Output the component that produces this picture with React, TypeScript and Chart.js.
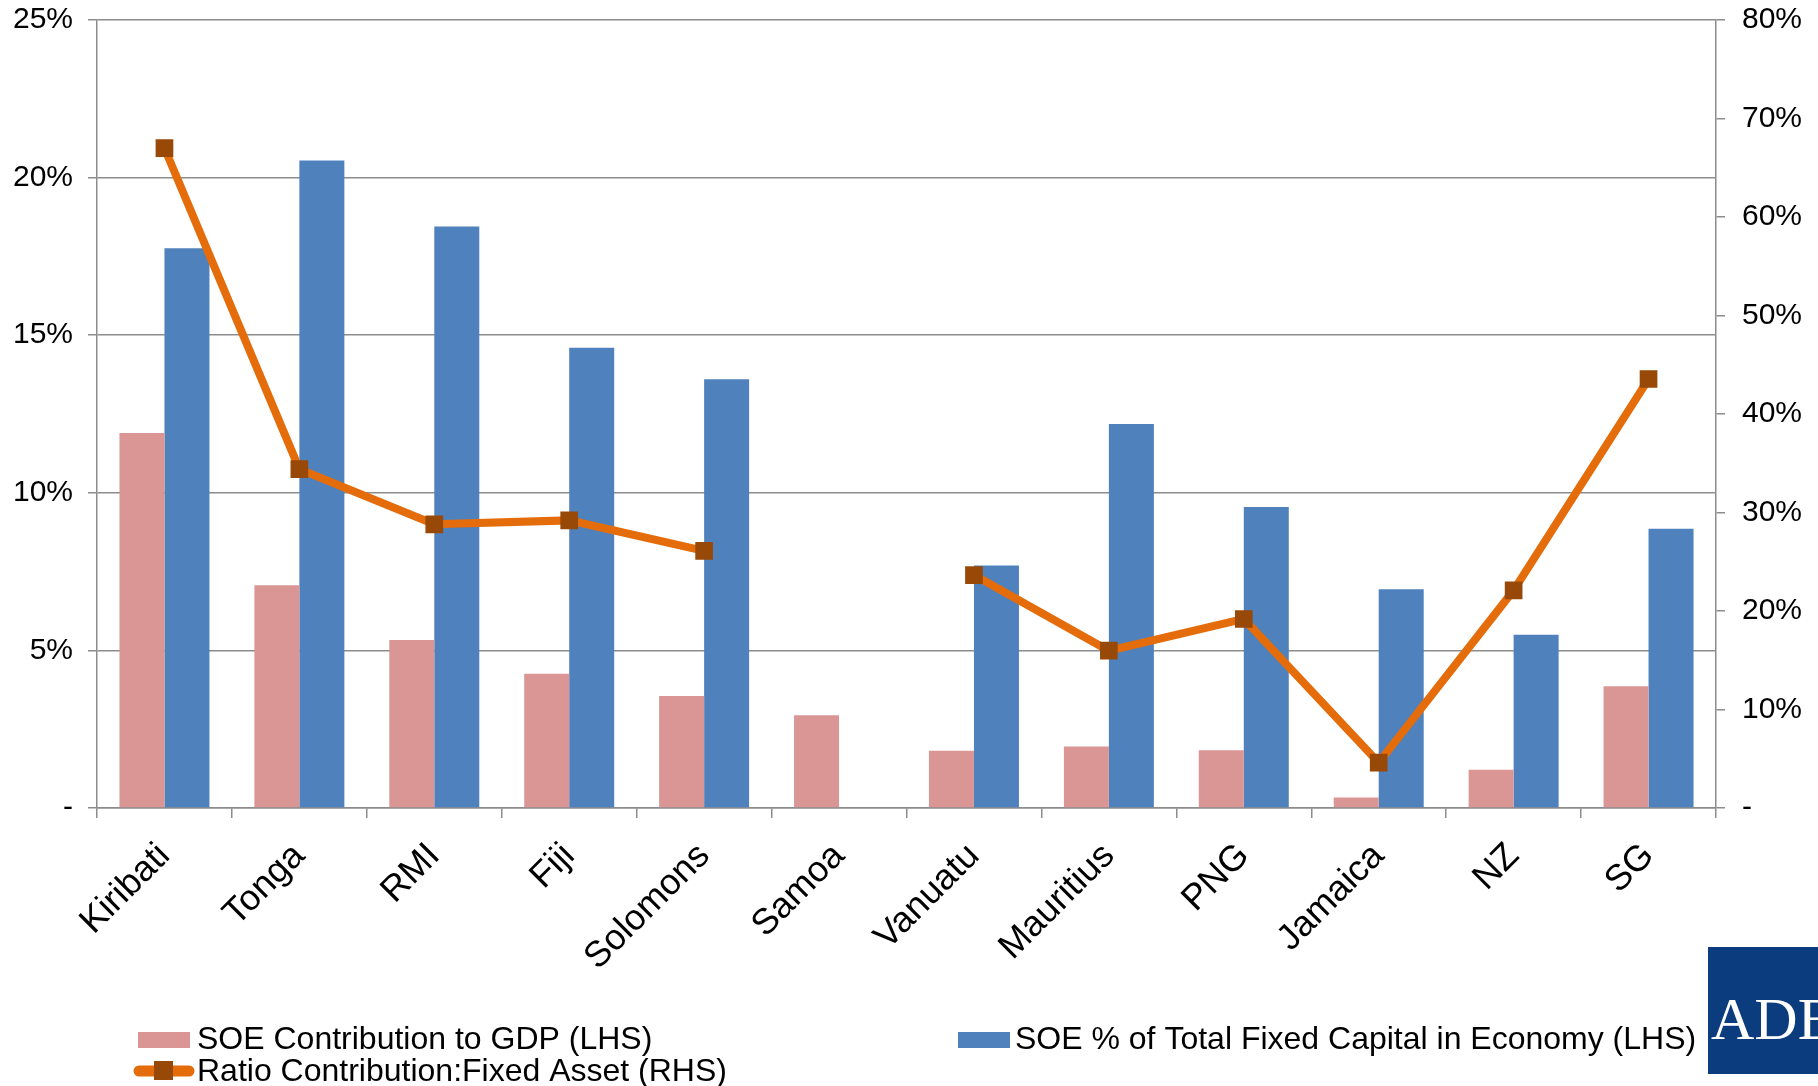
import React, { useEffect, useRef } from 'react';
import { Chart, registerables } from 'chart.js';

Chart.register(...registerables);

// ---- data ----
const categories = ['Kiribati', 'Tonga', 'RMI', 'Fiji', 'Solomons', 'Samoa', 'Vanuatu', 'Mauritius', 'PNG', 'Jamaica', 'NZ', 'SG'];
const soeContributionGDP = [11.9, 7.07, 5.33, 4.26, 3.55, 2.94, 1.82, 1.95, 1.83, 0.33, 1.21, 3.86];
const soeFixedCapital = [17.76, 20.54, 18.45, 14.6, 13.6, null, 7.69, 12.18, 9.55, 6.94, 5.5, 8.86];
const ratioContributionFixedAsset = [67.0, 34.4, 28.8, 29.2, 26.1, null, 23.65, 15.97, 19.19, 4.6, 22.1, 43.55];
const seriesLabels = [
  'SOE Contribution to GDP (LHS)',
  'SOE % of Total Fixed Capital in Economy (LHS)',
  'Ratio Contribution:Fixed Asset (RHS)',
];
const leftAxisMax = 25;
const leftAxisStep = 5;
const rightAxisMax = 80;
const rightAxisStep = 10;
const zeroLabel = '-';
const logoText = 'ADB';

// ---- styles ----
const PINK = '#D99694';
const BLUE = '#4F81BD';
const ORANGE = '#E46C0A';
const MARKER = '#984807';
const GRID = '#8C8C8C';
const FONT = '"Liberation Sans", Arial, sans-serif';

const legendPlugin = {
  id: 'customLegend',
  afterDraw(chart: any) {
    const ctx = chart.ctx as CanvasRenderingContext2D;
    ctx.save();
    ctx.font = `32px ${FONT}`;
    ctx.textBaseline = 'alphabetic';
    ctx.textAlign = 'left';
    // row 1
    ctx.fillStyle = PINK;
    ctx.fillRect(138, 1032, 52, 16);
    ctx.fillStyle = '#000';
    ctx.fillText(seriesLabels[0], 197, 1049);
    ctx.fillStyle = BLUE;
    ctx.fillRect(958, 1032, 52, 16);
    ctx.fillStyle = '#000';
    ctx.fillText(seriesLabels[1], 1015, 1049);
    // row 2
    ctx.strokeStyle = ORANGE;
    ctx.lineWidth = 11;
    ctx.lineCap = 'round';
    ctx.beginPath();
    ctx.moveTo(139, 1071);
    ctx.lineTo(189, 1071);
    ctx.stroke();
    ctx.fillStyle = MARKER;
    ctx.fillRect(154, 1061, 19, 19);
    ctx.fillStyle = '#000';
    ctx.fillText(seriesLabels[2], 197, 1081);
    // logo
    ctx.fillStyle = '#0B3C7D';
    ctx.fillRect(1708, 947, 110, 127);
    ctx.fillStyle = '#fff';
    ctx.font = `60px "Liberation Serif", "Times New Roman", serif`;
    ctx.fillText(logoText, 1711, 1039);
    ctx.restore();
  },
};

export default function App() {
  const ref = useRef<HTMLCanvasElement | null>(null);

  useEffect(() => {
    if (!ref.current) return;
    const chart = new Chart(ref.current, {
      type: 'bar',
      data: {
        labels: categories,
        datasets: [
          {
            type: 'line',
            label: seriesLabels[2],
            data: ratioContributionFixedAsset,
            yAxisID: 'y1',
            borderColor: ORANGE,
            borderWidth: 8,
            pointStyle: 'rect',
            pointRadius: 12.5,
            pointBackgroundColor: MARKER,
            pointBorderColor: MARKER,
            pointBorderWidth: 0,
            spanGaps: false,
            tension: 0,
            order: 0,
          } as any,
          {
            type: 'bar',
            label: seriesLabels[0],
            data: soeContributionGDP,
            yAxisID: 'y',
            backgroundColor: PINK,
            borderWidth: 0,
            categoryPercentage: 0.667,
            barPercentage: 1.0,
            order: 1,
          },
          {
            type: 'bar',
            label: seriesLabels[1],
            data: soeFixedCapital,
            yAxisID: 'y',
            backgroundColor: BLUE,
            borderWidth: 0,
            categoryPercentage: 0.667,
            barPercentage: 1.0,
            order: 1,
          },
        ],
      },
      options: {
        responsive: false,
        animation: false,
        layout: { padding: 0 },
        plugins: {
          legend: { display: false },
          tooltip: { enabled: false },
        },
        scales: {
          x: {
            offset: true,
            grid: {
              display: true,
              offset: true,
              drawOnChartArea: false,
              drawTicks: true,
              tickLength: 10,
              color: GRID,
              lineWidth: 1.5,
            },
            border: { display: true, color: GRID, width: 1.5 },
            ticks: {
              autoSkip: false,
              maxRotation: 45,
              minRotation: 45,
              padding: 17,
              color: '#000',
              font: { family: FONT, size: 36 },
            },
            afterFit(scale: any) {
              scale.height = 278;
              scale.paddingLeft = 0;
              scale.paddingRight = 0;
            },
          },
          y: {
            position: 'left',
            min: 0,
            max: leftAxisMax,
            ticks: {
              stepSize: leftAxisStep,
              padding: 15,
              color: '#000',
              font: { family: FONT, size: 30 },
              callback: (v: any) => (Number(v) === 0 ? zeroLabel : `${v}%`),
            },
            grid: {
              color: GRID,
              lineWidth: 1.5,
              tickLength: 9,
              drawTicks: true,
            },
            border: { display: true, color: GRID, width: 1.5 },
            afterFit(scale: any) {
              scale.width = 97;
              scale.paddingTop = 20;
              scale.paddingBottom = 0;
            },
          },
          y1: {
            position: 'right',
            min: 0,
            max: rightAxisMax,
            ticks: {
              stepSize: rightAxisStep,
              padding: 17,
              color: '#000',
              font: { family: FONT, size: 30 },
              callback: (v: any) => (Number(v) === 0 ? zeroLabel : `${v}%`),
            },
            grid: {
              drawOnChartArea: false,
              drawTicks: true,
              tickLength: 9,
              color: GRID,
              lineWidth: 1.5,
            },
            border: { display: true, color: GRID, width: 1.5 },
            afterFit(scale: any) {
              scale.width = 102;
              scale.paddingTop = 20;
              scale.paddingBottom = 0;
            },
          },
        },
      },
      plugins: [legendPlugin],
    });
    return () => chart.destroy();
  }, []);

  return (
    <div style={{ position: 'absolute', left: 0, top: 0, width: 1818, height: 1086, background: '#fff' }}>
      <canvas ref={ref} width={1818} height={1086} style={{ display: 'block', width: 1818, height: 1086 }} />
    </div>
  );
}
